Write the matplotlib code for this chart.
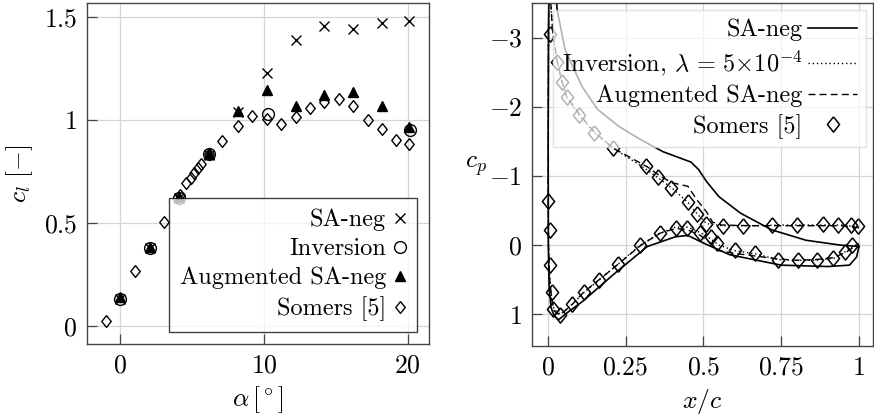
import matplotlib
matplotlib.use("Agg")
import matplotlib.pyplot as plt
from matplotlib.ticker import FuncFormatter
import numpy as np

plt.rcParams['font.family'] = ['cmr10', 'DejaVu Serif']
plt.rcParams['mathtext.fontset'] = 'cm'
plt.rcParams['axes.formatter.use_mathtext'] = True
plt.rcParams['font.size'] = 18.5

# ---- left panel: lift coefficient vs angle of attack ----
alpha_sa = [0, 2.1, 4.1, 6.2, 8.2, 10.2, 12.2, 14.2, 16.2, 18.2, 20.1]
cl_sa = [0.13, 0.38, 0.62, 0.83, 1.04, 1.23, 1.39, 1.455, 1.44, 1.47, 1.48]

alpha_inv = [0, 2.1, 4.1, 6.2, 10.25, 20.15]
cl_inv = [0.13, 0.38, 0.62, 0.835, 1.03, 0.95]

alpha_aug = [0, 2.1, 4.1, 6.2, 8.2, 10.2, 12.2, 14.2, 16.2, 18.2, 20.1]
cl_aug = [0.14, 0.385, 0.625, 0.835, 1.045, 1.145, 1.07, 1.12, 1.135, 1.07, 0.965]

alpha_exp = [-1.0, 1.05, 3.05, 4.15, 4.6, 4.9, 5.15, 5.4, 5.6, 6.2, 7.1, 8.2, 9.2,
             10.2, 11.2, 12.2, 13.2, 14.2, 15.2, 16.2, 17.2, 18.2, 19.2, 20.1]
cl_exp = [0.024, 0.265, 0.507, 0.638, 0.694, 0.718, 0.743, 0.767, 0.788, 0.835, 0.896,
          0.972, 1.018, 1.006, 0.981, 1.015, 1.058, 1.086, 1.102, 1.070, 1.002, 0.958,
          0.905, 0.885]

# ---- right panel: pressure coefficient along the chord ----
xc_sa = [1.0, 0.94, 0.83, 0.72, 0.62, 0.55, 0.51, 0.485, 0.46, 0.40, 0.37, 0.30, 0.23,
         0.16, 0.11, 0.055, 0.03, 0.018, 0.01, 0.005, 0.002, 0.001, 0.0015, 0.004, 0.01,
         0.02, 0.034, 0.07, 0.11, 0.22, 0.32, 0.41, 0.45, 0.50, 0.585, 0.75, 0.90, 0.97,
         0.993, 1.0]
cp_sa = [0.02, 0.0, -0.07, -0.22, -0.46, -0.70, -0.92, -1.09, -1.20, -1.30, -1.35, -1.52,
         -1.71, -1.96, -2.29, -2.83, -3.4, -4.0, -5.0, -4.5, -3.0, -1.5, 0.0, 0.6, 0.9,
         1.02, 1.08, 0.95, 0.82, 0.39, 0.02, -0.12, -0.14, -0.03, 0.14, 0.29, 0.31, 0.29,
         0.17, 0.02]

xc_inv = [1.0, 0.95, 0.85, 0.75, 0.65, 0.56, 0.51, 0.48, 0.45, 0.40, 0.355, 0.315, 0.21,
          0.15, 0.10, 0.06, 0.045, 0.03, 0.016, 0.008, 0.004, 0.002, 0.001, 0.002, 0.006,
          0.013, 0.02, 0.04, 0.077, 0.115, 0.163, 0.227, 0.297, 0.36, 0.41, 0.45, 0.49,
          0.52, 0.55, 0.60, 0.67, 0.74, 0.80, 0.86, 0.92, 0.955, 0.98, 1.0]
cp_inv = [-0.26, -0.29, -0.29, -0.29, -0.28, -0.28, -0.31, -0.45, -0.62, -0.82, -0.97,
          -1.10, -1.40, -1.62, -1.88, -2.14, -2.36, -2.64, -3.05, -3.6, -4.2, -3.0, -1.0,
          0.0, 0.5, 0.8, 0.93, 1.0, 0.86, 0.69, 0.51, 0.27, 0.0, -0.17, -0.26, -0.26,
          -0.18, -0.10, 0.0, 0.08, 0.13, 0.21, 0.22, 0.22, 0.19, 0.10, 0.02, -0.02]

xc_aug = [1.0, 0.95, 0.85, 0.75, 0.65, 0.56, 0.53, 0.51, 0.48, 0.45, 0.40, 0.36, 0.32,
          0.21, 0.15, 0.10, 0.06, 0.045, 0.03, 0.015, 0.008, 0.004, 0.002, 0.001, 0.002,
          0.006, 0.013, 0.02, 0.035, 0.05, 0.08, 0.115, 0.165, 0.23, 0.30, 0.36, 0.41,
          0.45, 0.49, 0.52, 0.55, 0.60, 0.67, 0.74, 0.80, 0.86, 0.92, 0.96, 0.98, 1.0]
cp_aug = [-0.25, -0.28, -0.28, -0.28, -0.28, -0.29, -0.33, -0.48, -0.65, -0.85, -0.90,
          -1.0, -1.13, -1.40, -1.63, -1.90, -2.15, -2.37, -2.66, -3.1, -3.6, -4.2, -3.0,
          -1.0, 0.0, 0.5, 0.8, 0.95, 1.0, 0.97, 0.85, 0.68, 0.5, 0.26, 0.0, -0.17, -0.24,
          -0.22, -0.14, -0.04, 0.08, 0.12, 0.16, 0.20, 0.22, 0.21, 0.18, 0.10, 0.04, -0.02]

xc_exp = [0.006, 0.029, 0.045, 0.061, 0.099, 0.147, 0.21, 0.317, 0.355, 0.395, 0.45,
          0.481, 0.51, 0.564, 0.628, 0.72, 0.80, 0.885, 0.933, 0.974, 0.998,
          0.002, 0.007, 0.007, 0.013, 0.018, 0.04, 0.077, 0.115, 0.163, 0.227, 0.297,
          0.361, 0.412, 0.446, 0.489, 0.523, 0.545, 0.601, 0.666, 0.741, 0.805, 0.864,
          0.917, 0.955, 0.977]
cp_exp = [-3.05, -2.64, -2.36, -2.14, -1.88, -1.62, -1.40, -1.15, -0.98, -0.83, -0.62,
          -0.45, -0.30, -0.28, -0.28, -0.29, -0.29, -0.30, -0.29, -0.29, -0.27,
          -0.63, -0.22, 0.29, 0.68, 0.92, 1.01, 0.85, 0.68, 0.51, 0.27, 0.0,
          -0.17, -0.25, -0.25, -0.18, -0.11, -0.03, 0.07, 0.12, 0.22, 0.22, 0.22,
          0.19, 0.10, 0.0]

diamond = [(0, 1), (0.8, 0), (0, -1), (-0.8, 0), (0, 1)]
fmt = FuncFormatter(lambda v, p: '$%g$' % v)

fig = plt.figure(figsize=(8.74, 4.15), dpi=100)
ax1 = fig.add_axes([0.0995, 0.171, 0.391, 0.822])
ax2 = fig.add_axes([0.6087, 0.166, 0.390, 0.827])

for ax in (ax1, ax2):
    ax.grid(True, color='#d4d4d4', lw=0.9)
    ax.set_axisbelow(True)
    ax.tick_params(direction='in', length=7, width=0.9, color='#444444', pad=7)
    for s in ax.spines.values():
        s.set_color('#444444')
        s.set_linewidth(1.0)
    ax.xaxis.set_major_formatter(fmt)
    ax.yaxis.set_major_formatter(fmt)

ax1.plot(alpha_sa, cl_sa, ls='none', marker='x', ms=6.5, mew=1.0, color='black',
         label='SA-neg')
ax1.plot(alpha_inv, cl_inv, ls='none', marker='o', ms=8.5, mew=1.0, mfc='none',
         color='black', label='Inversion')
ax1.plot(alpha_aug, cl_aug, ls='none', marker='^', ms=7.5, color='black',
         label='Augmented SA-neg')
ax1.plot(alpha_exp, cl_exp, ls='none', marker=diamond, ms=8.5, mew=1.0, mfc='none',
         color='black', label='Somers [5]')
ax1.set_xlim(-2.3, 21.45)
ax1.set_ylim(-0.087, 1.568)
ax1.set_xticks([0, 10, 20])
ax1.set_yticks([0, 0.5, 1, 1.5])
ax1.set_xlabel(r'$\alpha\,[^\circ]$', labelpad=5)
ax1.set_ylabel(r'$c_l\ [-]$', labelpad=6)
leg1 = ax1.legend(loc='lower right', markerfirst=False, handlelength=0.5,
                  handletextpad=0.3, fancybox=False, edgecolor='black', framealpha=0.75,
                  borderaxespad=0.5, labelspacing=0.28, borderpad=0.45, fontsize=17.5)
leg1.get_frame().set_linewidth(1.0)

ax2.plot(xc_sa, cp_sa, '-', color='black', lw=1.2, label='SA-neg')
ax2.plot(xc_inv, cp_inv, ls=(0, (1, 2)), color='black', lw=1.0,
         label=r'Inversion, $\lambda\,=\,5{\times}10^{-4}$')
ax2.plot(xc_aug, cp_aug, ls=(0, (5, 3)), color='black', lw=1.0,
         label='Augmented SA-neg')
ax2.plot(xc_exp, cp_exp, ls='none', marker=diamond, ms=11, mew=1.1, mfc='none',
         color='black', label='Somers [5]')
ax2.set_xlim(-0.051, 1.045)
ax2.set_ylim(1.46, -3.5)
ax2.set_xticks([0, 0.25, 0.5, 0.75, 1])
ax2.set_yticks([-3, -2, -1, 0, 1])
ax2.set_xlabel(r'$x/c$', labelpad=5)
ax2.set_ylabel(r'$c_p$', rotation=0)
ax2.yaxis.set_label_coords(-0.165, 0.49)
leg2 = ax2.legend(loc='upper right', markerfirst=False, handlelength=2.0,
                  handletextpad=0.25, fancybox=False, edgecolor='#d8d8d8', framealpha=0.7,
                  borderaxespad=0.3, labelspacing=0.28, borderpad=0.35, fontsize=17.5)

fig.savefig('out.png', dpi=100)
